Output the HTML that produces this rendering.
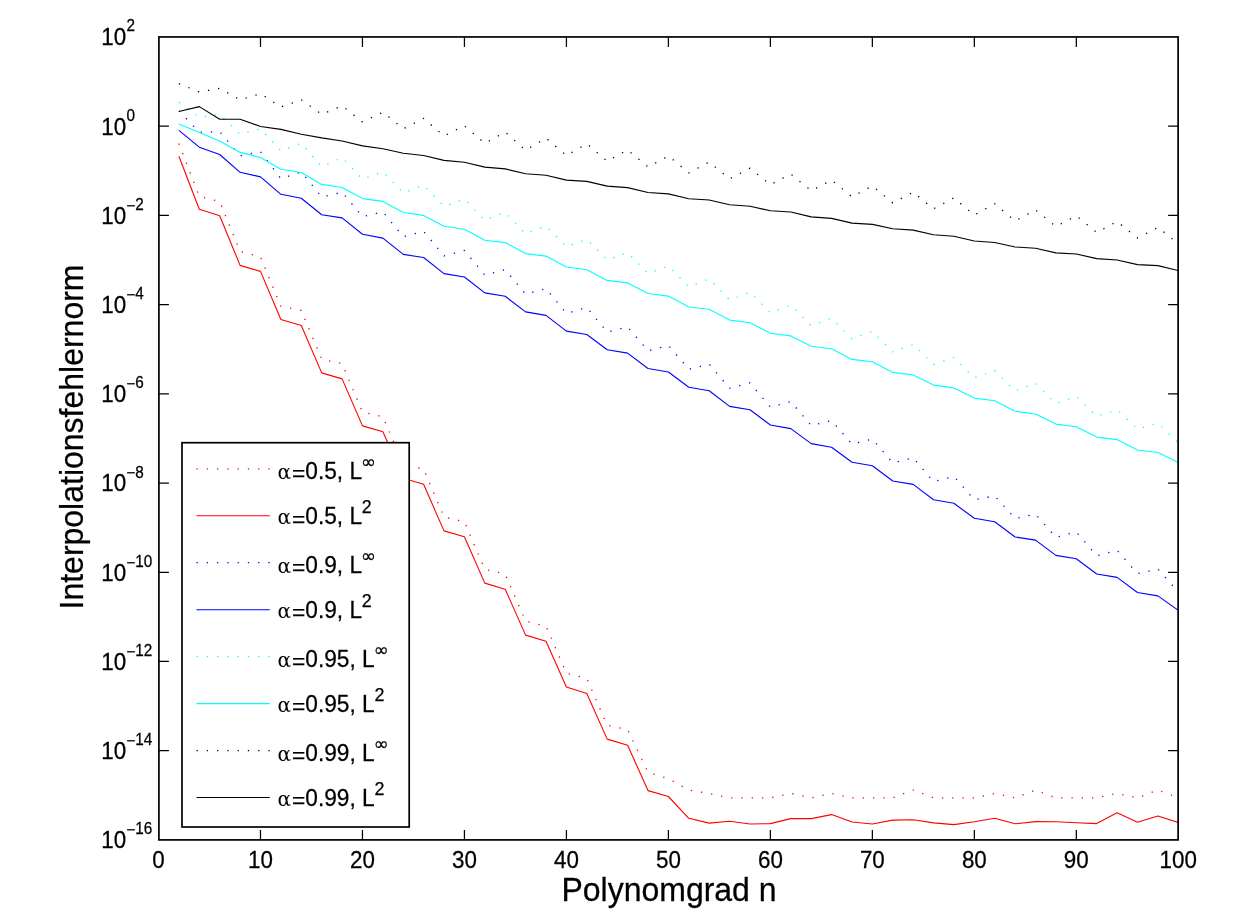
<!DOCTYPE html>
<html lang="de"><head><meta charset="utf-8"><title>Interpolationsfehlernorm</title>
<style>html,body{margin:0;padding:0;background:#fff}svg{display:block}text{font-family:"Liberation Sans", "DejaVu Sans", sans-serif;fill:#000}.t{font-size:22.4px}.tl{font-size:22.7px}.s{font-size:15.3px}.l{font-size:32px}.ls{font-size:17.9px}text{stroke:#000;stroke-width:0.25px}.sym{font-family:"DejaVu Sans","Liberation Sans",sans-serif}.ta{font-family:"DejaVu Serif","Liberation Serif",serif;font-size:20px;stroke-width:0}</style></head><body>
<svg width="1240" height="920" viewBox="0 0 1240 920">
<rect x="0" y="0" width="1240" height="920" fill="#fff"/>
<defs><clipPath id="c"><rect x="158.90" y="36.95" width="1019.20" height="802.95"/></clipPath></defs>
<g fill="none" stroke-width="1.10" stroke-linejoin="round" clip-path="url(#c)">
<polyline points="178.9,143.5 199.3,196.5 219.7,201.5 240.1,251.5 260.5,256.9 280.9,306.3 301.3,310.4 321.7,359.2 342.1,363.6 362.5,412.0 382.9,416.8 403.3,464.5 423.6,469.2 444.0,517.1 464.4,521.7 484.8,569.3 505.2,574.1 525.6,621.3 546.0,626.1 566.4,673.2 586.8,678.4 607.2,725.3 627.6,729.5 648.0,772.4 668.4,778.7 688.8,790.0 709.2,793.4 729.6,797.9 750.0,797.9 770.4,797.9 790.8,793.4 811.2,797.9 831.6,793.4 852.0,797.9 872.4,797.9 892.8,797.9 913.2,790.0 933.5,797.9 953.9,797.9 974.3,797.9 994.7,793.4 1015.1,797.9 1035.5,790.0 1055.9,797.9 1076.3,797.9 1096.7,797.9 1117.1,793.4 1137.5,797.9 1157.9,790.0 1178.3,797.9" stroke="#f00" stroke-width="1.3" stroke-dasharray="1.3 8.97"/>
<polyline points="178.9,156.2 199.3,209.3 219.7,215.8 240.1,265.4 260.5,271.4 280.9,319.5 301.3,325.5 321.7,372.9 342.1,378.9 362.5,425.9 382.9,431.8 403.3,478.3 423.6,484.3 444.0,530.9 464.4,536.8 484.8,583.1 505.2,589.2 525.6,635.1 546.0,641.2 566.4,687.0 586.8,693.5 607.2,739.1 627.6,745.2 648.0,790.6 668.4,796.5 688.8,818.3 709.2,823.1 729.6,821.2 750.0,824.0 770.4,823.6 790.8,818.6 811.2,818.6 831.6,814.6 852.0,822.0 872.4,824.0 892.8,820.1 913.2,819.8 933.5,822.9 953.9,824.6 974.3,821.8 994.7,818.3 1015.1,823.8 1035.5,821.6 1055.9,821.8 1076.3,822.7 1096.7,823.6 1117.1,812.7 1137.5,822.3 1157.9,815.9 1178.3,822.5" stroke="#f00"/>
<polyline points="178.9,110.9 199.3,132.2 219.7,131.6 240.1,155.8 260.5,151.6 280.9,178.7 301.3,171.9 321.7,197.1 342.1,192.2 362.5,216.7 382.9,211.8 403.3,236.8 423.6,231.3 444.0,255.9 464.4,250.4 484.8,275.0 505.2,269.7 525.6,294.1 546.0,288.6 566.4,313.4 586.8,307.6 607.2,332.1 627.6,326.9 648.0,350.8 668.4,345.5 688.8,369.3 709.2,364.1 729.6,388.4 750.0,382.9 770.4,407.1 790.8,401.5 811.2,425.6 831.6,420.5 852.0,444.2 872.4,439.1 892.8,463.0 913.2,457.7 933.5,481.7 953.9,476.4 974.3,499.7 994.7,495.9 1015.1,518.5 1035.5,514.1 1055.9,537.4 1076.3,531.9 1096.7,555.8 1117.1,550.3 1137.5,573.6 1157.9,569.0 1178.3,592.1" stroke="#00f" stroke-width="1.3" stroke-dasharray="1.3 8.97"/>
<polyline points="178.9,130.4 199.3,147.2 219.7,154.5 240.1,172.3 260.5,176.9 280.9,194.3 301.3,198.2 321.7,214.7 342.1,217.9 362.5,234.3 382.9,238.1 403.3,254.4 423.6,257.5 444.0,273.6 464.4,277.0 484.8,292.9 505.2,296.3 525.6,311.9 546.0,315.4 566.4,331.1 586.8,334.5 607.2,349.7 627.6,353.1 648.0,368.5 668.4,372.0 688.8,387.3 709.2,390.8 729.6,406.4 750.0,409.7 770.4,425.0 790.8,428.6 811.2,443.6 831.6,447.2 852.0,462.2 872.4,465.8 892.8,481.0 913.2,484.4 933.5,499.7 953.9,503.3 974.3,518.3 994.7,521.7 1015.1,537.0 1035.5,540.1 1055.9,555.4 1076.3,558.8 1096.7,574.0 1117.1,577.4 1137.5,592.5 1157.9,595.9 1178.3,610.3" stroke="#00f"/>
<polyline points="178.9,102.1 199.3,117.4 219.7,114.4 240.1,134.3 260.5,128.9 280.9,150.8 301.3,143.2 321.7,166.9 342.1,157.5 362.5,179.3 382.9,171.7 403.3,193.0 423.6,185.2 444.0,206.5 464.4,199.0 484.8,220.2 505.2,212.3 525.6,233.8 546.0,226.0 566.4,246.9 586.8,239.3 607.2,260.0 627.6,252.7 648.0,273.4 668.4,265.9 688.8,286.7 709.2,278.9 729.6,300.0 750.0,292.0 770.4,312.9 790.8,305.1 811.2,325.7 831.6,318.3 852.0,338.8 872.4,331.2 892.8,351.9 913.2,344.3 933.5,364.6 953.9,357.4 974.3,377.7 994.7,370.5 1015.1,390.9 1035.5,383.2 1055.9,403.6 1076.3,396.4 1096.7,416.3 1117.1,409.7 1137.5,429.2 1157.9,423.1 1178.3,442.8" stroke="#0ff" stroke-width="1.3" stroke-dasharray="1.3 8.97"/>
<polyline points="178.9,123.9 199.3,132.5 219.7,141.0 240.1,152.4 260.5,157.5 280.9,169.2 301.3,172.5 321.7,184.4 342.1,187.5 362.5,198.6 382.9,201.4 403.3,212.5 423.6,215.4 444.0,226.3 464.4,229.3 484.8,240.2 505.2,242.6 525.6,253.6 546.0,256.1 566.4,267.0 586.8,269.7 607.2,280.4 627.6,282.9 648.0,293.5 668.4,296.1 688.8,307.0 709.2,309.3 729.6,320.1 750.0,322.7 770.4,333.3 790.8,335.9 811.2,346.3 831.6,348.8 852.0,359.4 872.4,361.8 892.8,372.4 913.2,374.9 933.5,385.1 953.9,387.9 974.3,398.1 994.7,400.8 1015.1,411.2 1035.5,414.0 1055.9,424.1 1076.3,426.7 1096.7,437.1 1117.1,439.6 1137.5,450.0 1157.9,452.5 1178.3,462.5" stroke="#0ff"/>
<polyline points="178.9,83.6 199.3,92.0 219.7,88.4 240.1,99.8 260.5,93.6 280.9,107.0 301.3,99.8 321.7,114.3 342.1,105.9 362.5,121.9 382.9,112.3 403.3,128.8 423.6,118.4 444.0,136.0 464.4,125.7 484.8,143.3 505.2,132.1 525.6,150.3 546.0,138.0 566.4,155.6 586.8,143.7 607.2,161.3 627.6,149.9 648.0,166.9 668.4,156.0 688.8,172.9 709.2,162.0 729.6,178.9 750.0,168.2 770.4,184.7 790.8,174.1 811.2,190.7 831.6,180.1 852.0,196.9 872.4,185.9 892.8,202.9 913.2,192.2 933.5,208.9 953.9,197.9 974.3,215.1 994.7,203.8 1015.1,220.9 1035.5,209.8 1055.9,226.5 1076.3,215.9 1096.7,232.4 1117.1,221.5 1137.5,238.0 1157.9,227.4 1178.3,243.6" stroke="#000" stroke-width="1.3" stroke-dasharray="1.3 8.97"/>
<polyline points="178.9,111.5 199.3,106.6 219.7,119.3 240.1,119.3 260.5,126.5 280.9,129.4 301.3,134.2 321.7,137.9 342.1,141.0 362.5,145.9 382.9,148.7 403.3,153.2 423.6,155.5 444.0,160.4 464.4,162.2 484.8,167.1 505.2,168.9 525.6,173.8 546.0,175.3 566.4,180.1 586.8,181.4 607.2,186.1 627.6,187.6 648.0,192.5 668.4,193.9 688.8,198.7 709.2,200.0 729.6,204.8 750.0,206.3 770.4,210.7 790.8,212.0 811.2,216.9 831.6,218.4 852.0,223.1 872.4,224.4 892.8,228.8 913.2,230.1 933.5,234.8 953.9,236.3 974.3,241.0 994.7,242.5 1015.1,247.0 1035.5,248.3 1055.9,252.9 1076.3,254.0 1096.7,258.6 1117.1,260.0 1137.5,264.6 1157.9,265.6 1178.3,270.6" stroke="#000"/>
</g>
<g stroke="#000" stroke-width="1.25" fill="none">
<path d="M260.48 839.90V829.90M260.48 36.95V46.95"/>
<path d="M362.46 839.90V829.90M362.46 36.95V46.95"/>
<path d="M464.44 839.90V829.90M464.44 36.95V46.95"/>
<path d="M566.42 839.90V829.90M566.42 36.95V46.95"/>
<path d="M668.40 839.90V829.90M668.40 36.95V46.95"/>
<path d="M770.38 839.90V829.90M770.38 36.95V46.95"/>
<path d="M872.36 839.90V829.90M872.36 36.95V46.95"/>
<path d="M974.34 839.90V829.90M974.34 36.95V46.95"/>
<path d="M1076.32 839.90V829.90M1076.32 36.95V46.95"/>
<path d="M158.90 126.17H168.90M1178.10 126.17H1168.10"/>
<path d="M158.90 215.38H168.90M1178.10 215.38H1168.10"/>
<path d="M158.90 304.60H168.90M1178.10 304.60H1168.10"/>
<path d="M158.90 393.82H168.90M1178.10 393.82H1168.10"/>
<path d="M158.90 483.03H168.90M1178.10 483.03H1168.10"/>
<path d="M158.90 572.25H168.90M1178.10 572.25H1168.10"/>
<path d="M158.90 661.47H168.90M1178.10 661.47H1168.10"/>
<path d="M158.90 750.68H168.90M1178.10 750.68H1168.10"/>
</g>
<rect x="158.90" y="36.95" width="1019.20" height="802.95" fill="none" stroke="#000" stroke-width="1.70"/>
<text class="t" transform="translate(158.50 868.00) scale(1 1.065)" text-anchor="middle">0</text>
<text class="t" transform="translate(260.48 868.00) scale(1 1.065)" text-anchor="middle">10</text>
<text class="t" transform="translate(362.46 868.00) scale(1 1.065)" text-anchor="middle">20</text>
<text class="t" transform="translate(464.44 868.00) scale(1 1.065)" text-anchor="middle">30</text>
<text class="t" transform="translate(566.42 868.00) scale(1 1.065)" text-anchor="middle">40</text>
<text class="t" transform="translate(668.40 868.00) scale(1 1.065)" text-anchor="middle">50</text>
<text class="t" transform="translate(770.38 868.00) scale(1 1.065)" text-anchor="middle">60</text>
<text class="t" transform="translate(872.36 868.00) scale(1 1.065)" text-anchor="middle">70</text>
<text class="t" transform="translate(974.34 868.00) scale(1 1.065)" text-anchor="middle">80</text>
<text class="t" transform="translate(1076.32 868.00) scale(1 1.065)" text-anchor="middle">90</text>
<text class="t" transform="translate(1178.30 868.00) scale(1 1.065)" text-anchor="middle">100</text>
<text class="t" transform="translate(101.30 45.40) scale(1 1.060)">10</text>
<text class="s" transform="translate(126.40 31.45) scale(1 1.070)">2</text>
<text class="t" transform="translate(101.30 134.62) scale(1 1.060)">10</text>
<text class="s" transform="translate(126.40 120.67) scale(1 1.070)">0</text>
<text class="t" transform="translate(101.30 223.83) scale(1 1.060)">10</text>
<text class="s" x="126.40" y="210.78">−</text>
<text class="s" transform="translate(135.34 209.88) scale(1 1.070)">2</text>
<text class="t" transform="translate(101.30 313.05) scale(1 1.060)">10</text>
<text class="s" x="126.40" y="300.00">−</text>
<text class="s" transform="translate(135.34 299.10) scale(1 1.070)">4</text>
<text class="t" transform="translate(101.30 402.27) scale(1 1.060)">10</text>
<text class="s" x="126.40" y="389.22">−</text>
<text class="s" transform="translate(135.34 388.32) scale(1 1.070)">6</text>
<text class="t" transform="translate(101.30 491.48) scale(1 1.060)">10</text>
<text class="s" x="126.40" y="478.43">−</text>
<text class="s" transform="translate(135.34 477.53) scale(1 1.070)">8</text>
<text class="t" transform="translate(101.30 580.70) scale(1 1.060)">10</text>
<text class="s" x="126.40" y="567.65">−</text>
<text class="s" transform="translate(135.34 566.75) scale(1 1.070)">10</text>
<text class="t" transform="translate(101.30 669.92) scale(1 1.060)">10</text>
<text class="s" x="126.40" y="656.87">−</text>
<text class="s" transform="translate(135.34 655.97) scale(1 1.070)">12</text>
<text class="t" transform="translate(101.30 759.13) scale(1 1.060)">10</text>
<text class="s" x="126.40" y="746.08">−</text>
<text class="s" transform="translate(135.34 745.18) scale(1 1.070)">14</text>
<text class="t" transform="translate(101.30 848.35) scale(1 1.060)">10</text>
<text class="s" x="126.40" y="835.30">−</text>
<text class="s" transform="translate(135.34 834.40) scale(1 1.070)">16</text>
<text class="l" transform="translate(669.00 901.00) scale(1 1.030)" text-anchor="middle">Polynomgrad n</text>
<text class="l" transform="translate(83.0 437.0) rotate(-90) scale(1 1.030)" text-anchor="middle">Interpolationsfehlernorm</text>
<rect x="182.0" y="442.7" width="227.2" height="384.3" fill="#fff" stroke="#000" stroke-width="1.70"/>
<path d="M196.5 468.8H270.2" stroke="#f00" stroke-width="1.3" stroke-dasharray="1.3 8.97" fill="none"/>
<text class="ta" x="277.60" y="478.80">α</text>
<text class="tl" x="292.00" y="481.40">=</text>
<text class="tl" transform="translate(305.26 478.80) scale(1 1.065)">0.5, L</text>
<text class="ls sym" x="361.00" y="468.30">∞</text>
<path d="M196.5 515.8H269.8" stroke="#f00" stroke-width="1.10" fill="none"/>
<text class="ta" x="277.60" y="523.96">α</text>
<text class="tl" x="292.00" y="526.56">=</text>
<text class="tl" transform="translate(305.26 523.96) scale(1 1.065)">0.5, L</text>
<text class="ls" x="361.80" y="512.96">2</text>
<path d="M196.5 562.7H270.2" stroke="#00f" stroke-width="1.3" stroke-dasharray="1.3 8.97" fill="none"/>
<text class="ta" x="277.60" y="572.72">α</text>
<text class="tl" x="292.00" y="575.32">=</text>
<text class="tl" transform="translate(305.26 572.72) scale(1 1.065)">0.9, L</text>
<text class="ls sym" x="361.00" y="562.22">∞</text>
<path d="M196.5 609.7H269.8" stroke="#00f" stroke-width="1.10" fill="none"/>
<text class="ta" x="277.60" y="617.88">α</text>
<text class="tl" x="292.00" y="620.48">=</text>
<text class="tl" transform="translate(305.26 617.88) scale(1 1.065)">0.9, L</text>
<text class="ls" x="361.80" y="606.88">2</text>
<path d="M196.5 656.6H270.2" stroke="#0ff" stroke-width="1.3" stroke-dasharray="1.3 8.97" fill="none"/>
<text class="ta" x="277.60" y="666.64">α</text>
<text class="tl" x="292.00" y="669.24">=</text>
<text class="tl" transform="translate(305.26 666.64) scale(1 1.065)">0.95, L</text>
<text class="ls sym" x="373.80" y="656.14">∞</text>
<path d="M196.5 703.6H269.8" stroke="#0ff" stroke-width="1.10" fill="none"/>
<text class="ta" x="277.60" y="711.80">α</text>
<text class="tl" x="292.00" y="714.40">=</text>
<text class="tl" transform="translate(305.26 711.80) scale(1 1.065)">0.95, L</text>
<text class="ls" x="374.60" y="700.80">2</text>
<path d="M196.5 750.6H270.2" stroke="#000" stroke-width="1.3" stroke-dasharray="1.3 8.97" fill="none"/>
<text class="ta" x="277.60" y="760.56">α</text>
<text class="tl" x="292.00" y="763.16">=</text>
<text class="tl" transform="translate(305.26 760.56) scale(1 1.065)">0.99, L</text>
<text class="ls sym" x="373.80" y="750.06">∞</text>
<path d="M196.5 797.5H269.8" stroke="#000" stroke-width="1.10" fill="none"/>
<text class="ta" x="277.60" y="805.72">α</text>
<text class="tl" x="292.00" y="808.32">=</text>
<text class="tl" transform="translate(305.26 805.72) scale(1 1.065)">0.99, L</text>
<text class="ls" x="374.60" y="794.72">2</text>
</svg>
</body></html>
